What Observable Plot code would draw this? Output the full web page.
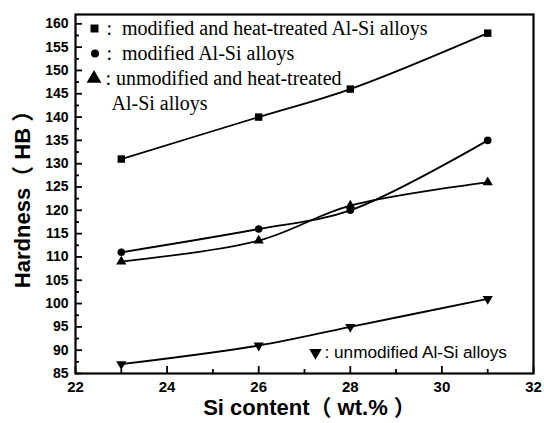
<!DOCTYPE html>
<html><head><meta charset="utf-8">
<script src="https://cdn.jsdelivr.net/npm/d3@7"></script>
<script src="https://cdn.jsdelivr.net/npm/@observablehq/plot@0.6"></script>
<style>
body{margin:0;background:#fff}
svg{overflow:visible}
</style>
</head><body><div id="chart"></div>
<script>
// --- data ---
const siContent = [23, 26, 28, 31];
const modHeatTreated = [131, 140, 146, 158];
const modifiedOnly = [111, 116, 120, 135];
const unmodHeatTreated = [109, 113.5, 121, 126];
const unmodifiedOnly = [87, 91, 95, 101];
const seriesNames = ["modified and heat-treated", "modified", "unmodified and heat-treated", "unmodified"];

const xTicks = [22, 24, 26, 28, 30, 32];
const xMinorTicks = [23, 25, 27, 29, 31];
const yTicks = [85, 90, 95, 100, 105, 110, 115, 120, 125, 130, 135, 140, 145, 150, 155, 160];
const yMinorTicks = [87.5, 92.5, 97.5, 102.5, 107.5, 112.5, 117.5, 122.5, 127.5, 132.5, 137.5, 142.5, 147.5, 152.5, 157.5];

const legendLines = [
  ":  modified and heat-treated Al-Si alloys",
  ":  modified Al-Si alloys",
  ": unmodified and heat-treated",
  "Al-Si alloys"
];
const legendBottom = ": unmodified Al-Si alloys";
const xTitle = "Si content\uFF08 wt.% \uFF09";
const yTitle = "Hardness\uFF08 HB \uFF09";

// --- build table ---
const seriesValues = [modHeatTreated, modifiedOnly, unmodHeatTreated, unmodifiedOnly];
const rows = [];
seriesValues.forEach((vals, i) => vals.forEach((v, j) => rows.push({series: seriesNames[i], x: siContent[j], y: v})));
const bySeries = name => rows.filter(d => d.series === name);

const downTriangle = {
  draw(context, size) {
    const sqrt3 = Math.sqrt(3);
    const y = -Math.sqrt(size / (sqrt3 * 3));
    context.moveTo(0, -y * 2);
    context.lineTo(-sqrt3 * y, y);
    context.lineTo(sqrt3 * y, y);
    context.closePath();
  }
};

const W = 544, H = 423;
const mL = 75, mR = 11, mT = 14, mB = 50;
const innerW = W - mL - mR, innerH = H - mT - mB;
const sans = "'Liberation Sans', Arial, 'Noto Sans CJK SC', sans-serif";
const serif = "'Liberation Serif', 'Times New Roman', serif";
const legText = (s, anchor, dx, dy, family, size) =>
  Plot.text([s], {frameAnchor: anchor, dx, dy, text: d => d, textAnchor: "start", lineAnchor: "middle", fontFamily: family, fontSize: size});

const chart = Plot.plot({
  width: W, height: H,
  marginLeft: mL, marginRight: mR, marginTop: mT, marginBottom: mB,
  style: {fontFamily: sans, background: "white", color: "black"},
  x: {domain: [22, 32]},
  y: {domain: [85, 162]},
  marks: [
    Plot.axisX(xTicks, {tickSize: 0, tickPadding: 8, fontSize: 15, fontWeight: "bold", label: null}),
    Plot.axisY(yTicks, {tickSize: 0, tickPadding: 7, fontSize: 14, fontWeight: "bold", label: null}),
    // inward ticks
    Plot.tickX(xTicks, {x: d => d, insetTop: innerH - 7, strokeWidth: 1.8}),
    Plot.tickX(xMinorTicks, {x: d => d, insetTop: innerH - 4, strokeWidth: 1.8}),
    Plot.tickY(yTicks, {y: d => d, insetRight: innerW - 7, strokeWidth: 1.8}),
    Plot.tickY(yMinorTicks, {y: d => d, insetRight: innerW - 4, strokeWidth: 1.8}),
    Plot.frame({strokeWidth: 2.2}),
    // series lines
    Plot.line(rows, {x: "x", y: "y", z: "series", curve: "catmull-rom", stroke: "black", strokeWidth: 1.8}),
    Plot.dot(bySeries(seriesNames[0]), {x: "x", y: "y", symbol: "square", r: 4.2, fill: "black"}),
    Plot.dot(bySeries(seriesNames[1]), {x: "x", y: "y", symbol: "circle", r: 3.8, fill: "black"}),
    Plot.dot(bySeries(seriesNames[2]), {x: "x", y: "y", symbol: "triangle", r: 3.8, fill: "black"}),
    Plot.dot(bySeries(seriesNames[3]), {x: "x", y: "y", symbol: downTriangle, r: 3.8, fill: "black"}),
    // legend markers
    Plot.dot([0], {x: null, y: null, frameAnchor: "top-left", dx: 19, dy: 14, symbol: "square", r: 4.5, fill: "black"}),
    Plot.dot([0], {x: null, y: null, frameAnchor: "top-left", dx: 19.5, dy: 39, symbol: "circle", r: 4, fill: "black"}),
    Plot.dot([0], {x: null, y: null, frameAnchor: "top-left", dx: 18.5, dy: 64, symbol: "triangle", r: 5.5, fill: "black"}),
    Plot.dot([0], {x: null, y: null, frameAnchor: "bottom-left", dx: 240, dy: -21, symbol: downTriangle, r: 4.6, fill: "black"}),
    // legend text
    legText(legendLines[0], "top-left", 31, 14, serif, 20),
    legText(legendLines[1], "top-left", 31, 39, serif, 20),
    legText(legendLines[2], "top-left", 30, 64, serif, 20),
    legText(legendLines[3], "top-left", 36, 89, serif, 20),
    legText(legendBottom, "bottom-left", 249, -21, sans, 17.2),
    // axis titles
    Plot.text([xTitle], {frameAnchor: "bottom", dx: 5, dy: 34, text: d => d, textAnchor: "middle", lineAnchor: "middle", fontSize: 22, fontWeight: "bold", fontFamily: sans}),
    Plot.text([yTitle], {frameAnchor: "left", dx: -53, rotate: -90, text: d => d, textAnchor: "middle", lineAnchor: "middle", fontSize: 22, fontWeight: "bold", fontFamily: sans})
  ]
});

// render full-width parentheses with a CJK font
chart.querySelectorAll("text").forEach(t => {
  if (t.querySelector("tspan") && t.querySelectorAll("tspan").length > 1) return;
  const s = t.textContent;
  if (!/[\uFF08\uFF09]/.test(s)) return;
  const target = t.querySelector("tspan") || t;
  target.textContent = "";
  for (const part of s.split(/([\uFF08\uFF09])/)) {
    if (!part) continue;
    const ts = document.createElementNS("http://www.w3.org/2000/svg", "tspan");
    ts.textContent = part;
    if (/[\uFF08\uFF09]/.test(part)) ts.setAttribute("font-family", "'Noto Sans CJK SC'");
    target.appendChild(ts);
  }
});
document.getElementById("chart").appendChild(chart);
</script>
</body></html>
